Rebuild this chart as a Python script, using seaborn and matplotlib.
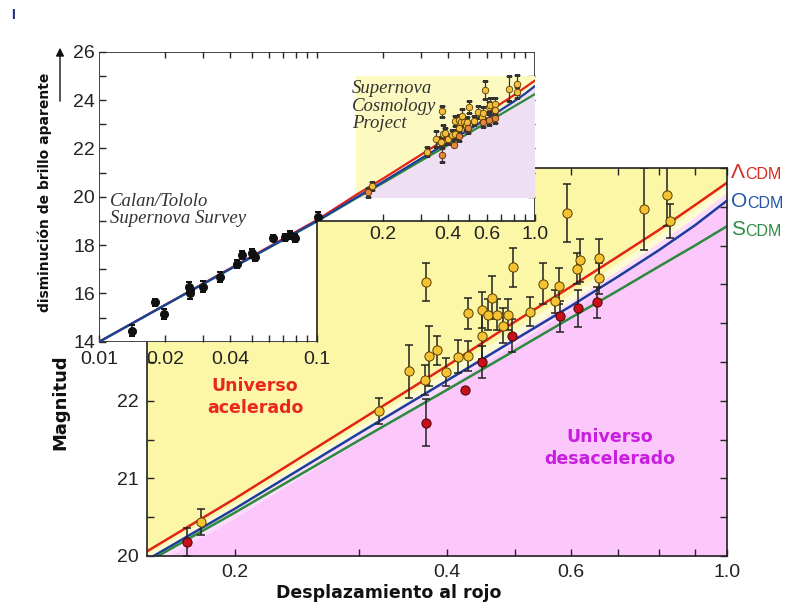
import numpy as np
import pandas as pd
import matplotlib
matplotlib.use("Agg")
import matplotlib.pyplot as plt
import seaborn as sns
from matplotlib.patches import Polygon
from matplotlib.ticker import FixedLocator, NullFormatter

# ---------------- data ----------------
calan_z = [0.0141, 0.018, 0.0199, 0.0259, 0.026, 0.0262, 0.0298, 0.0358, 0.043, 0.045,
           0.05, 0.0518, 0.0628, 0.0711, 0.075, 0.079, 0.101]
calan_m = [14.46, 15.63, 15.15, 16.25, 16.0, 16.12, 16.28, 16.69, 17.20, 17.59,
           17.66, 17.49, 18.28, 18.32, 18.42, 18.28, 19.15]
calan_err = [0.23, 0.15, 0.2, 0.24, 0.25, 0.2, 0.22, 0.2, 0.17, 0.18,
             0.18, 0.15, 0.12, 0.14, 0.16, 0.16, 0.2]

scp_y_z = [0.179, 0.320, 0.353, 0.372, 0.374, 0.377, 0.387, 0.399, 0.415, 0.428,
           0.429, 0.449, 0.449, 0.457, 0.464, 0.471, 0.480, 0.489, 0.497, 0.525,
           0.548, 0.570, 0.578, 0.592, 0.612, 0.619, 0.657, 0.657, 0.763, 0.823, 0.830]
scp_y_m = [20.44, 21.87, 22.38, 22.27, 23.53, 22.58, 22.65, 22.37, 22.57, 22.58,
           23.13, 22.84, 23.17, 23.11, 23.33, 23.11, 22.97, 23.11, 23.72, 23.15,
           23.51, 23.28, 23.48, 24.42, 23.70, 23.81, 23.84, 23.58, 24.47, 24.65, 24.32]
scp_y_err = [0.17, 0.17, 0.34, 0.19, 0.24, 0.39, 0.19, 0.18, 0.21, 0.19,
             0.20, 0.30, 0.23, 0.20, 0.28, 0.20, 0.23, 0.20, 0.25, 0.19,
             0.26, 0.15, 0.23, 0.37, 0.20, 0.28, 0.25, 0.20, 0.53, 0.40, 0.22]

scp_r_z = [0.171, 0.374, 0.425, 0.449, 0.495, 0.579, 0.615, 0.654]
scp_r_m = [20.18, 21.72, 22.14, 22.50, 22.84, 23.09, 23.19, 23.27]
scp_r_err = [0.18, 0.30, 0.0, 0.21, 0.21, 0.20, 0.24, 0.20]

model_z = [0.01, 0.02, 0.04, 0.1, 0.15, 0.2, 0.3, 0.4, 0.5, 0.6, 0.7, 0.8, 0.9, 1.0]
lcdm_m = [14.0, 15.52, 17.04, 19.04, 20.06, 20.74, 21.74, 22.45, 23.02, 23.47, 23.86, 24.20, 24.52, 24.81]
ocdm_m = [14.0, 15.51, 17.02, 19.00, 19.95, 20.61, 21.58, 22.26, 22.79, 23.22, 23.60, 23.94, 24.26, 24.58]
scdm_m = [14.0, 15.51, 17.01, 18.98, 19.92, 20.56, 21.49, 22.14, 22.65, 23.07, 23.42, 23.73, 24.00, 24.25]

bound_z = [0.15, 0.2, 0.3, 0.4, 0.5, 0.6, 0.7, 0.8, 0.9, 1.0]
bound_m = [19.93, 20.59, 21.58, 22.28, 22.83, 23.28, 23.68, 24.04, 24.37, 24.69]

main_xticks = [0.2, 0.4, 0.6, 1.0]
main_xlabels = ["0.2", "0.4", "0.6", "1.0"]
main_xminor = [0.3, 0.5, 0.7, 0.8, 0.9]
main_yticks = [20, 21, 22, 23, 24, 25]
main_yminor = [20.5, 21.5, 22.5, 23.5, 24.5]

inset_xticks_low = [0.01, 0.02, 0.04, 0.1]
inset_xlabels_low = ["0.01", "0.02", "0.04", "0.1"]
inset_xminor_low = [0.03, 0.05, 0.06, 0.07, 0.08, 0.09]
inset_xticks_high = [0.2, 0.4, 0.6, 1.0]
inset_xlabels_high = ["0.2", "0.4", "0.6", "1.0"]
inset_xminor_high = [0.3, 0.5, 0.7, 0.8, 0.9]
inset_top_ticks = [0.02, 0.03, 0.04, 0.05, 0.06, 0.07, 0.08, 0.09, 0.1,
                   0.2, 0.3, 0.4, 0.5, 0.6, 0.7, 0.8, 0.9]
inset_yticks = [14, 16, 18, 20, 22, 24, 26]
inset_yminor = [15, 17, 19, 21, 23, 25]
inset_right_ticks = [20, 21, 22, 23, 24, 25]

# ---------------- style ----------------
sns.set_theme(style="ticks")
plt.rcParams["font.family"] = ["Liberation Sans", "DejaVu Sans"]

YEL = "#FBF7A6"
PINK = "#FCC8FB"
YEL_IN = "#FCFAC0"
LAV = "#EEDFF3"
RED = "#E2231A"
BLUE = "#1D3E9E"
GREEN = "#2B8A3E"
PT_YEL = "#F5C232"
PT_RED = "#C8101C"

W, H = 789, 610
fig = plt.figure(figsize=(W / 100, H / 100), dpi=100)
fig.patch.set_facecolor("white")


def fx(px):
    return px / W


def fy(py):
    return 1 - py / H


# ---------------- main axes ----------------
ax = fig.add_axes([fx(147), fy(556), fx(727) - fx(147), fy(168) - fy(556)])
ax.set_xscale("log")
ax.set_facecolor(YEL)
ax.fill_between(bound_z, 19, bound_m, color=PINK, lw=0, zorder=0.5)
ax.fill_between(bound_z, np.array(bound_m), np.array(bound_m) + 0.10,
                color="white", alpha=0.55, lw=0, zorder=0.6)
ax.fill_between(bound_z, np.array(bound_m) - 0.10, np.array(bound_m),
                color="white", alpha=0.35, lw=0, zorder=0.6)

for vals, col in [(lcdm_m, RED), (ocdm_m, BLUE), (scdm_m, GREEN)]:
    sns.lineplot(x=model_z, y=vals, ax=ax, color=col, lw=1.8, sort=False,
                 estimator=None, zorder=2)

ax.errorbar(scp_y_z, scp_y_m, yerr=scp_y_err, fmt="none", ecolor="#222222",
            elinewidth=1.1, capsize=3, capthick=1.1, zorder=3)
ax.errorbar(scp_r_z, scp_r_m, yerr=scp_r_err, fmt="none", ecolor="#222222",
            elinewidth=1.1, capsize=3, capthick=1.1, zorder=3)
sns.scatterplot(x=scp_y_z, y=scp_y_m, ax=ax, color=PT_YEL, edgecolor="#5a3d00",
                s=44, linewidth=0.7, zorder=4)
sns.scatterplot(x=scp_r_z, y=scp_r_m, ax=ax, color=PT_RED, edgecolor="#4a0000",
                s=44, linewidth=0.7, zorder=4)

ax.set_xlim(0.15, 1.0)
ax.set_ylim(20, 25)
ax.set_xticks(main_xticks)
ax.set_xticklabels(main_xlabels)
ax.xaxis.set_minor_locator(FixedLocator(main_xminor))
ax.xaxis.set_minor_formatter(NullFormatter())
ax.set_yticks(main_yticks)
ax.set_yticklabels([str(v) for v in main_yticks])
ax.yaxis.set_minor_locator(FixedLocator(main_yminor))
ax.tick_params(which="both", direction="in", top=True, right=True,
               length=5, width=1, labelsize=14, labelcolor="#222222", pad=6)
ax.set_xlabel("")
ax.set_ylabel("")
for s in ax.spines.values():
    s.set_linewidth(1.2)
    s.set_color("#222222")

# ---------------- inset axes ----------------
ax_in = fig.add_axes([fx(99.3), fy(341.7), fx(535) - fx(99.3), fy(51.7) - fy(341.7)])
ax_in.set_xscale("log")
ax_in.set_xlim(0.01, 1.0)
ax_in.set_ylim(14, 26)
ax_in.patch.set_visible(False)
for s in ax_in.spines.values():
    s.set_visible(False)

poly = Polygon([(0.01, 14), (0.1, 14), (0.1, 19), (1.0, 19), (1.0, 26), (0.01, 26)],
               closed=True, facecolor="white", edgecolor="#222222", lw=1.2,
               zorder=0, transform=ax_in.transData)
ax_in.add_patch(poly)

ax_in.fill_between([0.15, 1.0], 20, 25, color=YEL_IN, lw=0, zorder=0.5)
ax_in.fill_between(bound_z, 20, bound_m, color=LAV, lw=0, zorder=0.6)

for vals, col in [(lcdm_m, RED), (scdm_m, GREEN), (ocdm_m, BLUE)]:
    sns.lineplot(x=model_z, y=vals, ax=ax_in, color=col, lw=1.6, sort=False,
                 estimator=None, zorder=2)

ax_in.errorbar(calan_z, calan_m, yerr=calan_err, fmt="o", color="#111111",
               ms=5.5, elinewidth=1.1, capsize=2.5, capthick=1.1, zorder=3)
ax_in.errorbar(scp_y_z, scp_y_m, yerr=scp_y_err, fmt="none", ecolor="#333333",
               elinewidth=0.9, capsize=2, capthick=0.9, zorder=3)
ax_in.errorbar(scp_r_z, scp_r_m, yerr=scp_r_err, fmt="none", ecolor="#333333",
               elinewidth=0.9, capsize=2, capthick=0.9, zorder=3)
sns.scatterplot(x=scp_y_z, y=scp_y_m, ax=ax_in, color="#F4BE3E", edgecolor="#5a3d00",
                s=22, linewidth=0.6, zorder=4)
sns.scatterplot(x=scp_r_z, y=scp_r_m, ax=ax_in, color="#E0893A", edgecolor="#5a2d00",
                s=22, linewidth=0.6, zorder=4)

for art in list(ax_in.lines) + list(ax_in.collections) + list(ax_in.patches):
    if art is not poly:
        art.set_clip_path(poly)

ax_in.set_xticks(inset_xticks_low)
ax_in.set_xticklabels(inset_xlabels_low)
ax_in.xaxis.set_minor_locator(FixedLocator(inset_xminor_low))
ax_in.xaxis.set_minor_formatter(NullFormatter())
ax_in.set_yticks(inset_yticks)
ax_in.set_yticklabels([str(v) for v in inset_yticks])
ax_in.yaxis.set_minor_locator(FixedLocator(inset_yminor))
ax_in.tick_params(which="both", direction="in", top=False, right=False,
                  length=5, width=1, labelsize=14, labelcolor="#222222")
ax_in.tick_params(axis="x", pad=7)
ax_in.tick_params(axis="y", pad=3)
ax_in.set_xlabel("")
ax_in.set_ylabel("")

sec_x = ax_in.secondary_xaxis((19 - 14) / (26 - 14))
sec_x.set_xticks(inset_xticks_high)
sec_x.set_xticklabels(inset_xlabels_high)
sec_x.xaxis.set_minor_locator(FixedLocator(inset_xminor_high))
sec_x.xaxis.set_minor_formatter(NullFormatter())
sec_x.tick_params(which="both", direction="in", length=5, width=1,
                  labelsize=14, labelcolor="#222222", pad=4)
for s in sec_x.spines.values():
    s.set_visible(False)

sec_top = ax_in.secondary_xaxis("top")
sec_top.set_xticks(inset_top_ticks)
sec_top.set_xticklabels([""] * len(inset_top_ticks))
sec_top.xaxis.set_minor_locator(FixedLocator([]))
sec_top.tick_params(which="both", direction="in", length=4, width=1)
for s in sec_top.spines.values():
    s.set_visible(False)

sec_right = ax_in.secondary_yaxis("right")
sec_right.set_yticks(inset_right_ticks)
sec_right.set_yticklabels([""] * len(inset_right_ticks))
sec_right.yaxis.set_minor_locator(FixedLocator([]))
sec_right.tick_params(which="both", direction="in", length=5, width=1)
for s in sec_right.spines.values():
    s.set_visible(False)

# ---------------- texts ----------------
fig.text(fx(60), fy(402), "Magnitud", rotation=90, ha="center", va="center",
         fontsize=13, fontweight="bold", family="DejaVu Sans", color="#111111")
fig.text(fx(389), fy(593), "Desplazamiento al rojo", ha="center", va="center",
         fontsize=12.5, fontweight="bold", family="DejaVu Sans", color="#111111")
fig.text(fx(45), fy(192), "disminución de brillo aparente", rotation=90,
         ha="center", va="center", fontsize=10, fontweight="bold",
         family="DejaVu Sans", color="#111111")
fig.text(fx(13), fy(15), "I", ha="center", va="center", fontsize=10,
         fontweight="bold", color="#1a2a80")
ax.annotate("", xy=(fx(60), fy(45)), xytext=(fx(60), fy(104)),
            xycoords="figure fraction", textcoords="figure fraction",
            arrowprops=dict(arrowstyle="-|>", color="#111111", lw=1,
                            mutation_scale=12))

fig.text(fx(110), fy(210), "Calan/Tololo\nSupernova Survey", ha="left", va="center",
         fontsize=13.5, style="italic", family="Liberation Serif", color="#333333",
         linespacing=1.05)
fig.text(fx(352), fy(106), "Supernova\nCosmology\nProject", ha="left", va="center",
         fontsize=13.5, style="italic", family="Liberation Serif", color="#333333",
         linespacing=1.05)

fig.text(fx(255), fy(397), "Universo\nacelerado", ha="center", va="center",
         fontsize=12.5, fontweight="bold", family="DejaVu Sans", color="#E8281E",
         linespacing=1.35)
fig.text(fx(610), fy(448), "Universo\ndesacelerado", ha="center", va="center",
         fontsize=12.5, fontweight="bold", family="DejaVu Sans", color="#C81EE0",
         linespacing=1.35)

for big, ybase, col in [("\u039b", 178, "#D42A20"), ("O", 207, "#2255AA"), ("S", 235, "#2E8B45")]:
    t1 = fig.text(fx(731), fy(ybase), big, ha="left", va="baseline", fontsize=15,
                  color=col)
    ax.annotate("CDM", xy=(1, 0), xycoords=t1, ha="left", va="bottom",
                fontsize=11.5, color=col, annotation_clip=False)

fig.savefig("out.png", dpi=100)
